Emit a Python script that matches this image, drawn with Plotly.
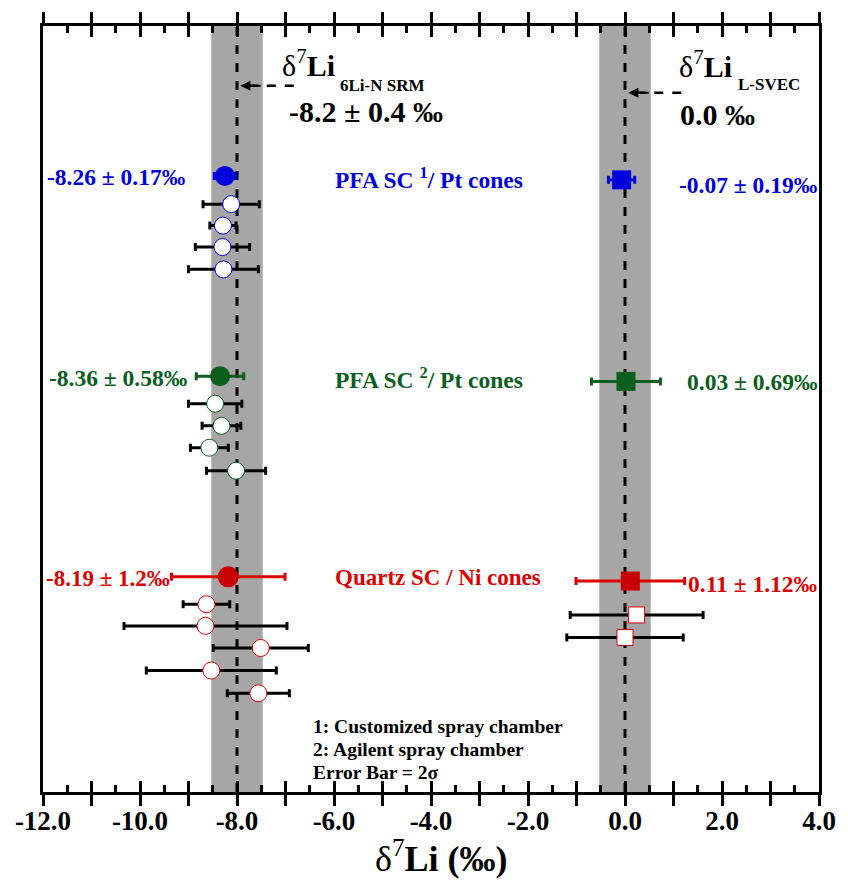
import plotly.graph_objects as go

# ---------------- data ----------------
# reference values (permil)
ref_srm = -8.0
ref_srm_band = 0.53
ref_svec = 0.0
ref_svec_band = 0.53

# Blue group: PFA SC 1 / Pt cones
blue_mean_x = [-8.25]
blue_mean_err = [0.22]
blue_mean_y = [6.85]
blue_open_x = [-8.12, -8.29, -8.30, -8.28]
blue_open_err = [0.58, 0.27, 0.56, 0.72]
blue_open_y = [8.14, 9.12, 10.10, 11.12]
blue_sq_x = [-0.07]
blue_sq_err = [0.27]
blue_sq_y = [7.03]

# Green group: PFA SC 2 / Pt cones
green_mean_x = [-8.35]
green_mean_err = [0.49]
green_mean_y = [16.00]
green_open_x = [-8.45, -8.32, -8.57, -8.02]
green_open_err = [0.55, 0.40, 0.39, 0.61]
green_open_y = [17.26, 18.27, 19.27, 20.32]
green_sq_x = [0.02]
green_sq_err = [0.71]
green_sq_y = [16.24]

# Red group: Quartz SC / Ni cones
red_mean_x = [-8.18]
red_mean_err = [1.17]
red_mean_y = [25.17]
red_open_x = [-8.63, -8.65, -7.51, -8.53, -7.56]
red_open_err = [0.48, 1.68, 0.98, 1.34, 0.64]
red_open_y = [26.42, 27.41, 28.42, 29.45, 30.49]
red_sq_x = [0.11]
red_sq_err = [1.12]
red_sq_y = [25.36]
red_osq_x = [0.24, 0.0]
red_osq_err = [1.37, 1.20]
red_osq_y = [26.91, 27.94]

x_labeled = [-12, -10, -8, -6, -4, -2, 0, 2, 4]
x_labels = ["-12.0", "-10.0", "-8.0", "-6.0", "-4.0", "-2.0", "0.0", "2.0", "4.0"]
x_odd = [-11, -9, -7, -5, -3, -1, 1, 3]
x_major = sorted(x_labeled + x_odd)
x_minor = [v + 0.5 for v in x_major[:-1]]

BLUE = "#0000dc"
GREEN = "#0b5e1e"
RED = "#dd0000"
RED_M = "#c80000"
FONT = "Liberation Serif"

fig = go.Figure()


def add(x, err, y, symbol, size, fill, line_col, line_w, err_col):
    fig.add_trace(go.Scatter(
        x=x, y=y, mode="markers",
        marker=dict(symbol=symbol, size=size, color=fill,
                    line=dict(color=line_col, width=line_w)),
        error_x=dict(type="data", array=err, color=err_col, thickness=3, width=4),
        showlegend=False, hoverinfo="x"))


# open markers with black error bars
add(blue_open_x, blue_open_err, blue_open_y, "circle", 17, "white", BLUE, 1, "black")
add(green_open_x, green_open_err, green_open_y, "circle", 17, "white", GREEN, 1, "black")
add(red_open_x, red_open_err, red_open_y, "circle", 17, "white", RED, 1, "black")
add(red_osq_x, red_osq_err, red_osq_y, "square", 16, "white", RED, 1, "black")
# mean markers
add(blue_mean_x, blue_mean_err, blue_mean_y, "circle", 20, BLUE, BLUE, 0, BLUE)
add(green_mean_x, green_mean_err, green_mean_y, "circle", 20, GREEN, GREEN, 0, GREEN)
add(red_mean_x, red_mean_err, red_mean_y, "circle", 21, RED_M, RED_M, 0, RED)
add(blue_sq_x, blue_sq_err, blue_sq_y, "square", 19, BLUE, BLUE, 0, BLUE)
add(green_sq_x, green_sq_err, green_sq_y, "square", 19, GREEN, GREEN, 0, GREEN)
add(red_sq_x, red_sq_err, red_sq_y, "square", 19, RED_M, RED_M, 0, RED)

# invisible trace for the overlay axis (inside ticks)
fig.add_trace(go.Scatter(x=[None], y=[None], xaxis="x2", yaxis="y",
                         showlegend=False, hoverinfo="skip"))

# shapes: bands and dashed reference lines
for c, w in [(ref_srm, ref_srm_band), (ref_svec, ref_svec_band)]:
    fig.add_shape(type="rect", xref="x", yref="paper", x0=c - w, x1=c + w, y0=0, y1=1,
                  fillcolor="#a6a6a6", line=dict(width=0), layer="below")
for c in [ref_srm, ref_svec]:
    fig.add_shape(type="line", xref="x", yref="paper", x0=c, x1=c, y0=0, y1=1,
                  line=dict(color="black", width=3, dash="dash"), layer="below")

# dashed arrows
arrows = [(-6.83, -7.93, 2.73), (1.16, 0.07, 3.05)]
for xs, xe, ya in arrows:
    fig.add_shape(type="line", xref="x", yref="y", x0=xs, x1=xe + 0.15, y0=ya, y1=ya,
                  line=dict(color="black", width=2.5, dash="dash"))
    fig.add_annotation(x=xe, y=ya, ax=xe + 0.45, ay=ya, xref="x", yref="y",
                       axref="x", ayref="y", showarrow=True, arrowhead=2,
                       arrowsize=1, arrowwidth=2, arrowcolor="black", text="")


def txt(x, y, s, size, color="black", anchor="left", bold=True, yref="y", yanchor="middle"):
    fig.add_annotation(x=x, y=y, xref="x", yref=yref, text=s, showarrow=False,
                       xanchor=anchor, yanchor=yanchor, borderpad=0,
                       font=dict(family=FONT, size=size, color=color,
                                 weight="bold" if bold else "normal"))


# reference labels
txt(-7.10, 1.70, "δ<sup>7</sup><b>Li</b>", 30, bold=False)
txt(-5.90, 2.70, "6Li-N SRM", 17)
txt(-6.95, 3.90, "-8.2 ± 0.4 ‰", 30)
txt(1.10, 1.75, "δ<sup>7</sup><b>Li</b>", 30, bold=False)
txt(2.30, 2.66, "L-SVEC", 17)
txt(1.12, 4.05, "0.0 ‰", 30)

# group labels
LS = 23.5
txt(-11.93, 6.88, "-8.26 ± 0.17‰", LS, BLUE)
txt(-6.00, 6.95, "PFA SC <sup>1</sup>/ Pt cones", LS, BLUE)
txt(3.97, 7.27, "-0.07 ± 0.19‰", LS, BLUE, anchor="right")
txt(-11.89, 16.09, "-8.36 ± 0.58‰", LS, GREEN)
txt(-6.00, 16.09, "PFA SC <sup>2</sup>/ Pt cones", LS, GREEN)
txt(3.97, 16.27, "0.03 ± 0.69‰", LS, GREEN, anchor="right")
txt(-11.95, 25.23, "-8.19 ± 1.2‰", 23, RED)
txt(-6.00, 25.18, "Quartz SC / Ni cones", 23, RED)
txt(3.97, 25.50, "0.11 ± 1.12‰", LS, RED, anchor="right")

# notes
txt(-6.45, 32.0, "1: Customized spray chamber", 19.5)
txt(-6.45, 33.05, "2: Agilent spray chamber", 19.5)
txt(-6.45, 34.1, "Error Bar = 2σ", 19.5)

# axis title
txt(-3.78, -0.1143, "δ<sup>7</sup><b>Li (‰)</b>", 36, anchor="center", bold=False,
    yref="paper", yanchor="bottom")

fig.update_layout(
    width=848, height=880,
    margin=dict(l=43, r=25, t=22, b=88),
    plot_bgcolor="white", paper_bgcolor="white",
    font=dict(family=FONT, color="black"),
    xaxis=dict(range=[-12, 4], tickmode="array", tickvals=x_labeled, ticktext=x_labels,
               ticks="outside", ticklen=11, tickwidth=3, tickcolor="black",
               showline=True, linewidth=3, linecolor="black", mirror="ticks",
               showgrid=False, zeroline=False, ticklabelstandoff=-8,
               minor=dict(tickvals=x_odd, ticks="outside", ticklen=11, tickwidth=3,
                          tickcolor="black", showgrid=False),
               tickfont=dict(family=FONT, size=27, color="black", weight="bold")),
    xaxis2=dict(range=[-12, 4], overlaying="x", matches="x", side="bottom",
                tickmode="array", tickvals=x_major, ticks="inside", ticklen=11,
                tickwidth=3, tickcolor="black", showticklabels=False, mirror="ticks",
                showline=False, showgrid=False, zeroline=False,
                minor=dict(tickvals=x_minor, ticks="inside", ticklen=7, tickwidth=2.5,
                           tickcolor="black", showgrid=False)),
    yaxis=dict(range=[35, 0], showline=True, linewidth=3, linecolor="black", mirror=True,
               ticks="", showticklabels=False, showgrid=False, zeroline=False),
)

fig.write_html("out.html")
